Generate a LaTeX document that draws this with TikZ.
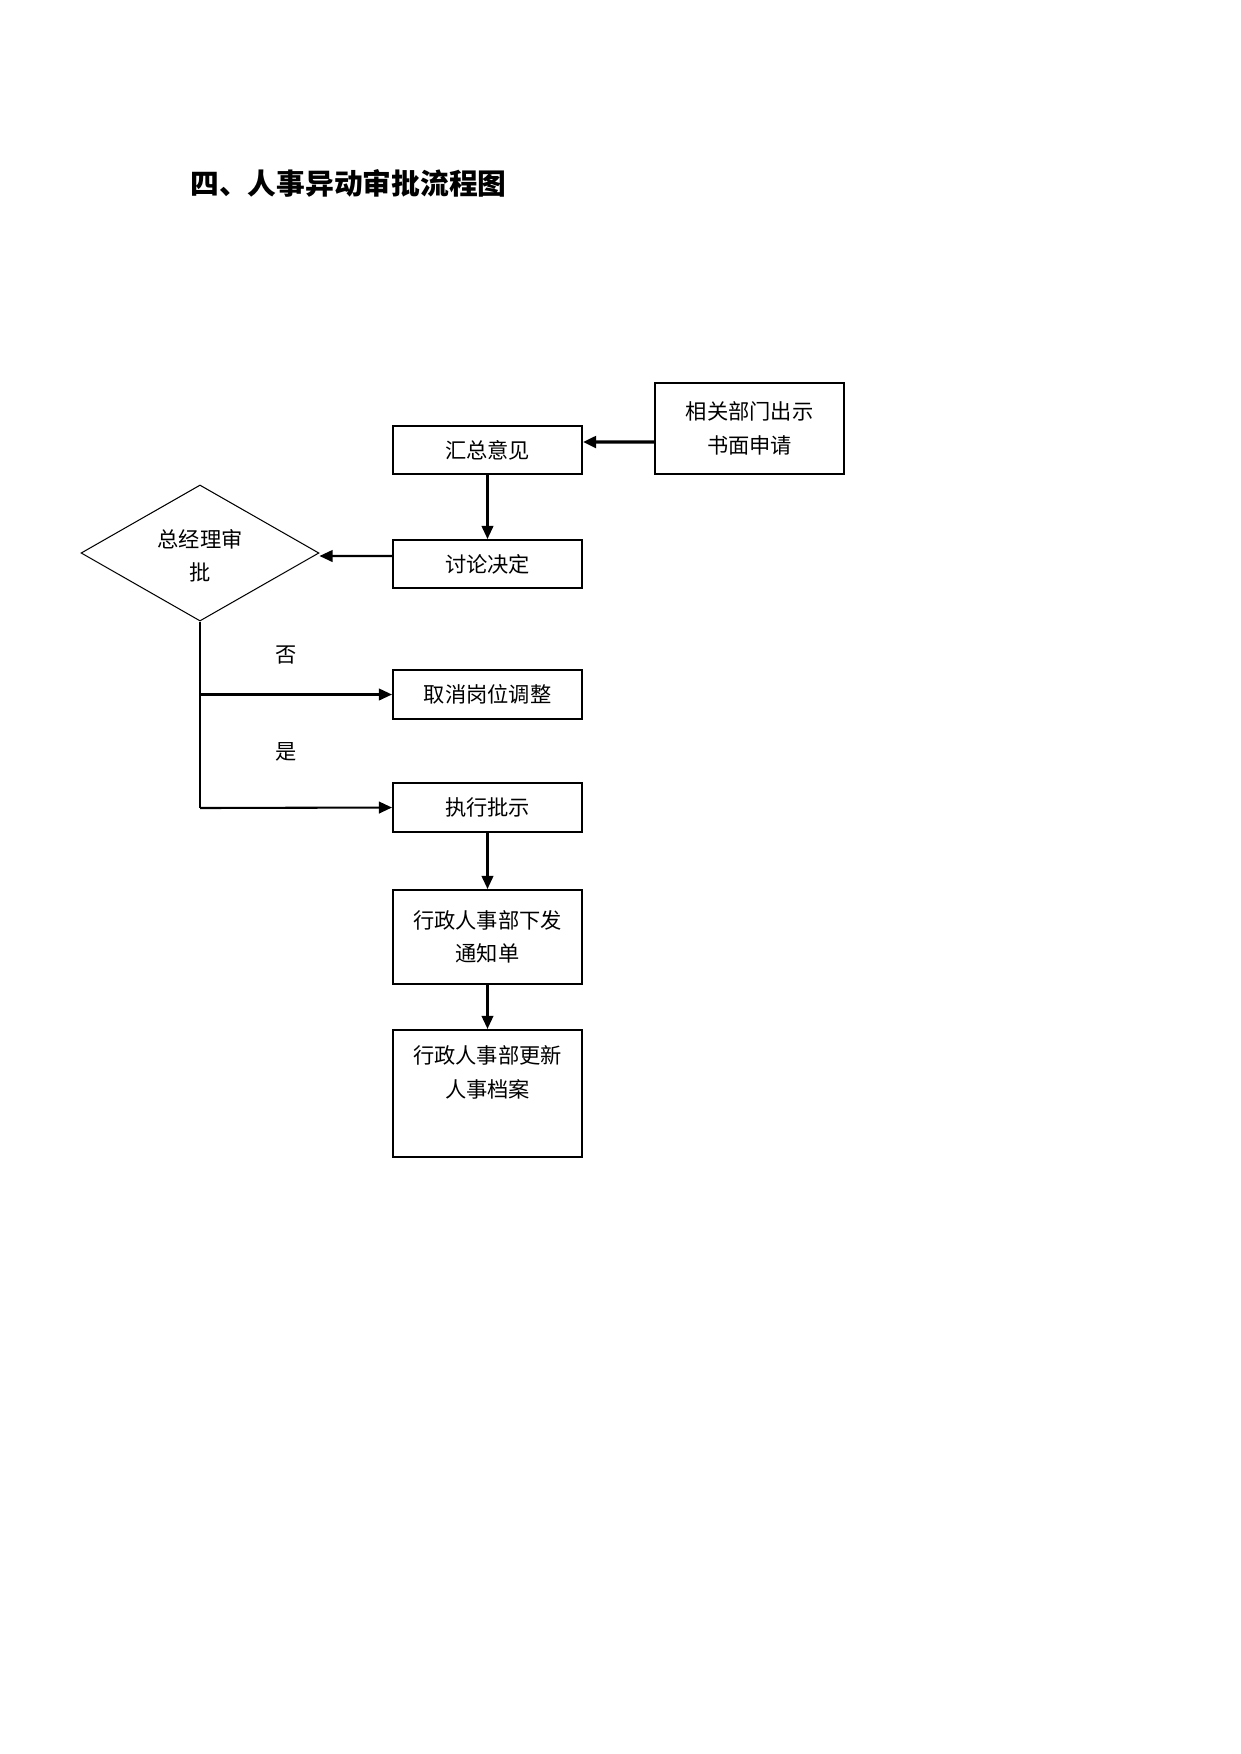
\documentclass[tikz,border=0pt]{standalone}
\usepackage{fontspec}
\newfontfamily\cjk{Noto Sans CJK SC}
\usetikzlibrary{shapes.geometric,arrows.meta}
\begin{document}
\begin{tikzpicture}[x=0.48pt,y=-0.48pt,
  box/.style={draw,line width=1pt,minimum width=90.7pt,inner sep=0pt,font=\cjk\fontsize{10.2pt}{16pt}\selectfont,align=center},
  lbl/.style={font=\cjk\fontsize{10.2pt}{16pt}\selectfont,align=center,inner sep=0pt},
  arr/.style={line width=1pt,-{Triangle[length=6.3pt,width=5.6pt]}},
  conn/.style={line width=1pt}]
\useasboundingbox (0,0) rectangle (1241,1754);
\node[anchor=west,font=\cjk\bfseries\fontsize{13.8pt}{16pt}\selectfont,inner sep=0pt] (title) at (190,183) {四、人事异动审批流程图};
\node[box,minimum height=43.7pt] (req) at (749.5,428.5) {相关部门出示\\书面申请};
\node[box,minimum height=23pt] (sum) at (487.5,450) {汇总意见};
\node[box,minimum height=23pt] (disc) at (487.5,564) {讨论决定};
\node[draw,diamond,line width=0.5pt,minimum width=114.2pt,minimum height=65.3pt,inner sep=0pt] (dia) at (200,553) {};
\node[lbl] (diat) at (200,556) {总经理审\\批};
\node[box,minimum height=23.5pt] (cancel) at (487.5,694.5) {取消岗位调整};
\node[box,minimum height=23.5pt] (exec) at (487.5,807.5) {执行批示};
\node[box,minimum height=45.1pt] (notice) at (487.5,937) {行政人事部下发\\通知单};
\node[box,minimum height=61pt] (update) at (487.5,1093.5) {};
\node[lbl,anchor=north] (updt) at ([yshift=-8pt]update.north) {行政人事部更新\\人事档案};
\node[lbl] (no) at (286,655) {否};
\node[lbl] (yes) at (286,752) {是};
\coordinate (bend) at (200,808);
\coordinate (split) at (200,694.5);
\draw[arr,line width=1.5pt] ([yshift=-6.5pt]req.west) -- ([yshift=3.84pt]sum.east);
\draw[arr] (sum.south) -- (disc.north);
\draw[arr] ([yshift=3.84pt]disc.west) -- ([yshift=-1.44pt]dia.east);
\draw[conn] (dia.south) -- (bend);
\draw[arr] (bend) -- (exec.west);
\draw[arr] (split) -- (cancel.west);
\draw[line width=1.5pt] (split) -- (253,694.5);
\draw[arr] (exec.south) -- (notice.north);
\draw[arr] (notice.south) -- (update.north);
\end{tikzpicture}
\end{document}
